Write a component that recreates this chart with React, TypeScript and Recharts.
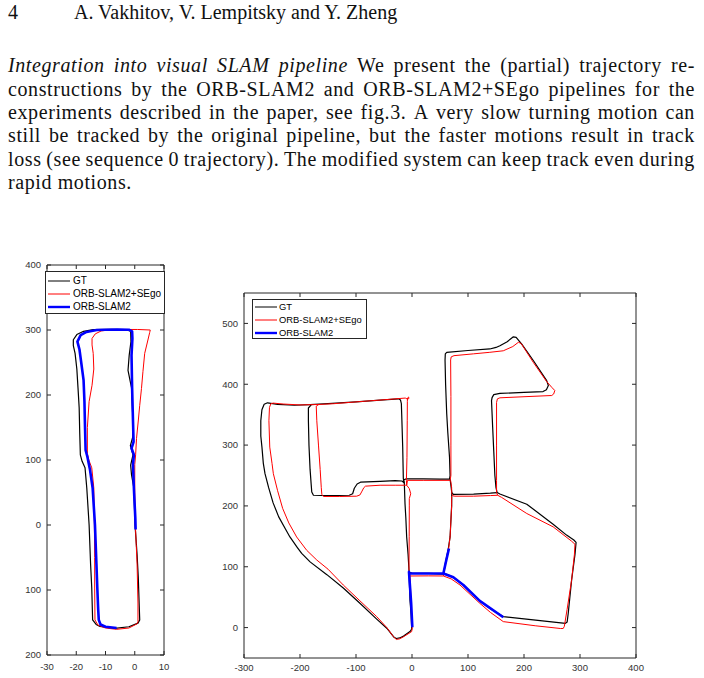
import React from 'react';
import { ScatterChart, Scatter, XAxis, YAxis, Legend } from 'recharts';

// ---------- page text ----------
const headerPage = '4';
const headerAuthors = 'A. Vakhitov, V. Lempitsky and Y. Zheng';
const italicLead = 'Integration into visual SLAM pipeline';
const paragraphLines = [
  'We present the (partial) trajectory re-',
  'constructions by the ORB-SLAM2 and ORB-SLAM2+SEgo pipelines for the',
  'experiments described in the paper, see fig.3. A very slow turning motion can',
  'still be tracked by the original pipeline, but the faster motions result in track',
  'loss (see sequence 0 trajectory). The modified system can keep track even during',
  'rapid motions.',
];

// ---------- legend / series names ----------
const seriesNames = ['GT', 'ORB-SLAM2+SEgo', 'ORB-SLAM2'];

// ---------- left plot (sequence 0) ----------
const seq0XTicks = [-30, -20, -10, 0, 10];
const seq0YTicks = [-200, -100, 0, 100, 200, 300, 400];

const seq0GT: number[][] = [
  [-1.4, 298], [-3, 300.5], [-8, 301], [-14.2, 300.5], [-17.5, 298], [-19.8, 293], [-21, 285],
  [-21, 276], [-20.4, 264], [-19.8, 240], [-19.4, 211], [-19, 180], [-18.8, 140], [-18.6, 108],
  [-18, 98], [-17, 88], [-16.4, 57], [-15.6, 0], [-15.1, -60], [-14.7, -97], [-14.4, -146],
  [-13.2, -153], [-11.9, -156], [-6.8, -159], [-2, -156.5], [1.1, -151], [1.7, -146],
  [1.5, -120], [1.2, -80], [0.8, -46], [0.1, 0], [-0.3, 57], [-1.1, 77], [-1.4, 92],
  [-0.6, 108], [-1.5, 122], [-0.7, 135], [-0.6, 159], [-1.1, 211], [-2.3, 238], [-1.9, 261],
  [-1.3, 282], [-1.4, 298],
];

const seq0SEgo: number[][] = [
  [5.3, 300], [1, 300.8], [-4, 300.8], [-8.5, 300.3], [-11.5, 298.5], [-13.5, 294], [-14.6, 287],
  [-14.6, 277], [-14.2, 264], [-14, 240], [-14.6, 215], [-15.6, 190], [-16.2, 150], [-16.2, 110],
  [-15.7, 100], [-14.7, 88], [-14, 57], [-13.8, 0], [-13.7, -50], [-13.7, -97], [-13.6, -146],
  [-12.6, -154], [-10, -158.5], [-6.2, -160.5], [-2, -158.5], [0.8, -152], [1.1, -148.7],
  [1.1, -120], [0.8, -60], [0.5, -30], [0.2, 0], [0, 50], [0, 93], [0.3, 108], [0.6, 133],
  [1.2, 160], [1.7, 184], [2.3, 210], [2.8, 236], [3.4, 264], [4.5, 284.6], [5.1, 296], [5.3, 300],
];

const seq0ORB: number[][] = [
  [0.3, -7], [0.2, 10], [-0.3, 57], [-0.6, 93], [-0.3, 108], [-1.1, 118], [-0.4, 128],
  [-0.6, 160], [-0.9, 211], [-1.1, 261], [-0.8, 287], [-0.9, 298], [-2, 300.5], [-6, 300.8],
  [-10, 300.5], [-13, 300], [-16.5, 297], [-18.5, 292], [-19.6, 282], [-18.9, 270], [-18.3, 250],
  [-17.5, 223], [-17.2, 190], [-17, 150], [-16.8, 115], [-16.2, 105], [-15.3, 85], [-14.4, 57],
  [-13.6, 0], [-13.1, -60], [-12.8, -97], [-12.5, -130], [-12.3, -146], [-11.7, -153],
  [-10, -156.5], [-6.2, -158.5],
];

// ---------- right plot (sequence 1) ----------
const seq1XTicks = [-300, -200, -100, 0, 100, 200, 300, 400];
const seq1YTicks = [0, 100, 200, 300, 400, 500];

const seq1GTLoop: number[][] = [
  [-182, 366.5], [-210, 365.5], [-240, 367], [-258, 369.5], [-264, 367], [-268, 358], [-270, 340],
  [-270, 315], [-268, 297], [-265.5, 270], [-262.5, 253], [-256, 230], [-248, 205], [-238, 182],
  [-226, 162], [-218, 149], [-205, 132], [-197, 122], [-182, 108], [-152, 87], [-122.7, 65],
  [-93, 40], [-63, 14], [-45, -1], [-32, -16], [-28, -18], [-22, -17], [-15, -14], [-3.6, -6.6],
  [-0.5, -2.6], [-1.5, 20], [-3.6, 45], [-5.4, 94.6], [-7, 120], [-9.5, 149], [-11, 180],
  [-12.5, 204], [-13.7, 237], [-15.5, 245], [-16.6, 297], [-18.4, 351], [-19, 368], [-20.5, 374],
  [-24, 376], [-57, 374], [-100, 371], [-150, 368], [-182, 366.5],
];

const seq1GTMain: number[][] = [
  [-180, 366], [-185, 361], [-185, 340], [-184, 300], [-182, 260], [-180, 235], [-179, 223],
  [-176, 217.5], [-150, 217], [-112, 217.5], [-106, 220], [-103, 229], [-98, 236], [-92, 239],
  [-57, 240.5], [-30, 241.5], [-18, 241], [-14, 238], [-15, 243], [-10, 244.5], [20, 244.5],
  [50, 244], [67, 244], [68, 250], [67, 280], [64, 320], [62, 351.5], [60, 400], [59, 440],
  [59.5, 450], [62, 452.5], [100, 455.5], [139, 458], [150, 460.5], [157, 463.4], [170, 470],
  [181, 478], [186, 477], [196, 466], [216.6, 439], [240.5, 406], [243.5, 398], [240, 391],
  [234, 388], [200, 386.5], [157, 385], [146, 383], [143, 378], [142, 373], [144, 330],
  [146, 290], [148, 250], [150, 230], [152, 222], [157, 219.5], [205, 202.8], [252, 170],
  [276, 152], [289, 144], [293, 140], [291, 120], [285, 78], [279, 23.6], [277, 9], [274, 7],
  [216.6, 12.6], [163, 18], [140, 31], [121, 44], [91.7, 70], [73.8, 82.6], [62, 87.5], [56, 88],
  [30, 89], [0, 89.5], [-5.4, 91],
];

const seq1GTLink: number[][] = [
  [68, 244], [70, 230], [71, 222], [74, 219], [110, 219.5], [140, 221], [152, 222],
];

const seq1GTDrop: number[][] = [
  [71, 222], [70.8, 200], [68, 149], [64.9, 130], [60, 108], [56, 88],
];

const seq1SEgoLoop: number[][] = [
  [-168, 366.7], [-200, 366], [-230, 367.5], [-248, 369], [-252, 368], [-254.5, 362],
  [-255.5, 340], [-254, 296.7], [-250, 270], [-247.6, 253], [-240, 225], [-231, 196],
  [-220, 172], [-206, 149], [-188, 127], [-170, 111], [-150, 96], [-122.7, 70], [-93, 44],
  [-63, 18], [-45, 0], [-33, -15], [-28, -19.5], [-22, -18.5], [-15, -15], [-0.6, -6.6],
  [0.5, 0], [-1.5, 40], [-3.6, 84.8], [-5.4, 94.6], [-5, 150], [-4.8, 200], [-4.8, 212],
  [-2.3, 220], [-4.8, 228.5], [-9.5, 234], [-10, 242], [-9, 280], [-8.5, 340], [-8.3, 372],
  [-8, 377.5], [-6, 379], [-5.5, 376.5], [-8, 375.5], [-12, 377.3], [-57, 374], [-100, 371],
  [-140, 368], [-168, 366.7],
];

const seq1SEgoMain: number[][] = [
  [-166, 367], [-171, 364], [-170, 340], [-167, 300], [-164, 260], [-162, 230], [-161, 219],
  [-158, 215.5], [-130, 215.5], [-98.8, 216], [-93, 218], [-90, 223], [-86, 230], [-83, 232.5],
  [-57, 234], [-30, 234], [-12, 234], [-9.5, 234], [-8, 242], [20, 242], [50, 242], [68, 242],
  [69.5, 250], [69.5, 300], [69.5, 380], [69, 440], [70, 445], [75, 447], [110, 450],
  [139, 452.5], [163, 455], [180, 462], [190, 469], [195, 467], [216.6, 436], [240, 405],
  [249.5, 395], [255, 389.7], [253, 384], [249.5, 381.5], [200, 379.5], [157, 377.7],
  [152.5, 376], [151, 370], [151, 300], [151, 242], [151, 222], [153, 217.5], [160, 214],
  [205, 187.5], [252, 165.6], [285, 142], [291, 137], [290, 120], [285, 78], [277, 30],
  [272, 2], [270, -1.5], [265, -1.5], [220, 3], [163, 9.8], [140, 25], [121, 40], [85.7, 70],
  [70, 80], [56, 84.8], [30, 85], [-3.6, 84.8],
];

const seq1SEgoLink: number[][] = [
  [69, 242], [70.8, 230], [71, 220], [73, 216.5], [76.8, 216], [110, 216], [140, 217], [153, 217.5],
];

const seq1SEgoDrop: number[][] = [
  [70.8, 216.5], [70.8, 200], [68, 149], [65, 127], [60, 105], [56, 84.8],
];

const seq1ORBUp: number[][] = [
  [0.6, 0.6], [-1.5, 40], [-5.4, 91.5], [-4.8, 89], [20, 89], [45, 89], [56, 89], [61, 110], [66, 130],
];

const seq1ORBDiag: number[][] = [
  [56, 89], [73.8, 82.6], [91.7, 70], [121, 44], [163, 17],
];

// ---------- styles ----------
const SERIF = "'Liberation Serif', 'Times New Roman', Times, serif";
const SANS = "'Liberation Sans', Arial, Helvetica, sans-serif";
const AXIS_COLOR = '#262626';
const seriesStyle: Record<string, { color: string; width: number; legendWidth: number }> = {
  GT: { color: '#000000', width: 1.2, legendWidth: 1 },
  'ORB-SLAM2+SEgo': { color: '#ff0000', width: 1, legendWidth: 1 },
  'ORB-SLAM2': { color: '#0000ff', width: 2.6, legendWidth: 2.4 },
};

const toPts = (a: number[][]) => a.map(([x, y]) => ({ x, y }));
const NoDot = () => null;

const tickStyle = { fill: '#333333', fontSize: 9.5, fontFamily: SANS };

function makeLegend(w: number, h: number, rowTop: number, rowGap: number, fs: number, textGap: number) {
  return () => (
    <div
      style={{
        width: w,
        height: h,
        boxSizing: 'border-box',
        border: `1px solid ${AXIS_COLOR}`,
        background: '#ffffff',
        position: 'relative',
        fontFamily: SANS,
        fontSize: fs,
        color: '#000',
      }}
    >
      {seriesNames.map((name, i) => (
        <div
          key={name}
          style={{
            position: 'absolute',
            left: 2,
            top: rowTop + i * rowGap - 7,
            height: 14,
            display: 'flex',
            alignItems: 'center',
            whiteSpace: 'nowrap',
          }}
        >
          <svg width={22} height={14} style={{ display: 'block' }}>
            <line x1={0} y1={7} x2={22} y2={7} stroke={seriesStyle[name].color} strokeWidth={seriesStyle[name].legendWidth} />
          </svg>
          <span style={{ marginLeft: textGap, lineHeight: '14px' }}>{name}</span>
        </div>
      ))}
    </div>
  );
}

function series(name: string, data: number[][], key: string) {
  const st = seriesStyle[name];
  return (
    <Scatter
      key={key}
      name={name}
      data={toPts(data)}
      xAxisId="b"
      yAxisId="l"
      fill={st.color}
      line={{ stroke: st.color, strokeWidth: st.width, strokeLinejoin: 'round' }}
      shape={NoDot}
      isAnimationActive={false}
      legendType="none"
    />
  );
}

// invisible carrier so the mirrored top/right axes (MATLAB box) get data
function boxCarrier(data: number[][]) {
  return (
    <Scatter
      data={toPts(data)}
      xAxisId="t"
      yAxisId="r"
      fill="none"
      shape={NoDot}
      isAnimationActive={false}
      legendType="none"
    />
  );
}

export default function App() {
  const lineTop0 = 55.3;
  const lineStep = 23.35;
  const textBase: React.CSSProperties = {
    position: 'absolute',
    fontFamily: SERIF,
    fontSize: 20,
    lineHeight: '20px',
    color: '#111',
    whiteSpace: 'nowrap',
  };
  const hideLabel = () => '';
  const bodySpacing = 0.6;

  return (
    <div style={{ position: 'absolute', left: 0, top: 0, width: 704, height: 678, background: '#fff', overflow: 'hidden' }}>
      <div style={{ ...textBase, left: 8, top: 1.8 }}>{headerPage}</div>
      <div style={{ ...textBase, left: 74, top: 1.8 }}>{headerAuthors}</div>
      {paragraphLines.map((ln, i) => {
        const last = i === paragraphLines.length - 1;
        const top = lineTop0 + i * lineStep;
        if (last) {
          return (
            <div key={i} style={{ ...textBase, left: 8, top, letterSpacing: bodySpacing }}>
              {ln}
            </div>
          );
        }
        const lead = i === 0 ? italicLead.split(' ') : [];
        const words = ln.split(' ');
        return (
          <div
            key={i}
            style={{
              ...textBase,
              left: 8,
              top,
              width: 687,
              display: 'flex',
              justifyContent: 'space-between',
              letterSpacing: bodySpacing,
            }}
          >
            {lead.map((w, k) => (
              <i key={'i' + k}>{w}</i>
            ))}
            {words.map((w, k) => (
              <span key={'w' + k}>{w}</span>
            ))}
          </div>
        );
      })}

      {/* left plot */}
      <div style={{ position: 'absolute', left: 0, top: 255 }}>
        <ScatterChart width={180} height={423} margin={{ top: 9, right: 15, bottom: 3, left: 7 }}>
          <XAxis
            xAxisId="b"
            dataKey="x"
            type="number"
            orientation="bottom"
            domain={[-30, 10]}
            ticks={seq0XTicks}
            interval={0}
            allowDataOverflow
            height={20}
            tickSize={-4}
            tickMargin={12}
            stroke={AXIS_COLOR}
            tick={tickStyle}
          />
          <XAxis
            xAxisId="t"
            dataKey="x"
            type="number"
            orientation="top"
            domain={[-30, 10]}
            ticks={seq0XTicks}
            interval={0}
            allowDataOverflow
            height={1}
            tickSize={-4}
            stroke={AXIS_COLOR}
            tickFormatter={hideLabel}
            tick={tickStyle}
          />
          <YAxis
            yAxisId="l"
            dataKey="y"
            type="number"
            orientation="left"
            domain={[-200, 400]}
            ticks={seq0YTicks}
            interval={0}
            allowDataOverflow
            width={40}
            tickSize={-4}
            tickMargin={10}
            stroke={AXIS_COLOR}
            tick={tickStyle}
            tickFormatter={(v: number) => String(Math.abs(v))}
          />
          <YAxis
            yAxisId="r"
            dataKey="y"
            type="number"
            orientation="right"
            domain={[-200, 400]}
            ticks={seq0YTicks}
            interval={0}
            allowDataOverflow
            width={1}
            tickSize={-4}
            stroke={AXIS_COLOR}
            tickFormatter={hideLabel}
            tick={tickStyle}
          />
          {boxCarrier(seq0GT)}
          {series('GT', seq0GT, 'g0')}
          {series('ORB-SLAM2+SEgo', seq0SEgo, 's0')}
          {series('ORB-SLAM2', seq0ORB, 'o0')}
          <Legend
            layout="vertical"
            align="center"
            verticalAlign="middle"
            content={makeLegend(120, 43, 9, 13, 10, 3)}
            wrapperStyle={{ left: 45, top: 16, right: 'auto', bottom: 'auto', width: 120, height: 43 }}
          />
        </ScatterChart>
      </div>

      {/* right plot */}
      <div style={{ position: 'absolute', left: 200, top: 280 }}>
        <ScatterChart width={450} height={398} margin={{ top: 12, right: 13, bottom: 2, left: 4 }}>
          <XAxis
            xAxisId="b"
            dataKey="x"
            type="number"
            orientation="bottom"
            domain={[-300, 400]}
            ticks={seq1XTicks}
            interval={0}
            allowDataOverflow
            height={18}
            tickSize={-4}
            tickMargin={10}
            stroke={AXIS_COLOR}
            tick={tickStyle}
          />
          <XAxis
            xAxisId="t"
            dataKey="x"
            type="number"
            orientation="top"
            domain={[-300, 400]}
            ticks={seq1XTicks}
            interval={0}
            allowDataOverflow
            height={1}
            tickSize={-4}
            stroke={AXIS_COLOR}
            tickFormatter={hideLabel}
            tick={tickStyle}
          />
          <YAxis
            yAxisId="l"
            dataKey="y"
            type="number"
            orientation="left"
            domain={[-50, 550]}
            ticks={seq1YTicks}
            interval={0}
            allowDataOverflow
            width={40}
            tickSize={-4}
            tickMargin={10}
            stroke={AXIS_COLOR}
            tick={tickStyle}
          />
          <YAxis
            yAxisId="r"
            dataKey="y"
            type="number"
            orientation="right"
            domain={[-50, 550]}
            ticks={seq1YTicks}
            interval={0}
            allowDataOverflow
            width={1}
            tickSize={-4}
            stroke={AXIS_COLOR}
            tickFormatter={hideLabel}
            tick={tickStyle}
          />
          {boxCarrier(seq1GTMain)}
          {series('GT', seq1GTLoop, 'g1')}
          {series('GT', seq1GTMain, 'g2')}
          {series('GT', seq1GTLink, 'g3')}
          {series('GT', seq1GTDrop, 'g4')}
          {series('ORB-SLAM2+SEgo', seq1SEgoLoop, 's1')}
          {series('ORB-SLAM2+SEgo', seq1SEgoMain, 's2')}
          {series('ORB-SLAM2+SEgo', seq1SEgoLink, 's3')}
          {series('ORB-SLAM2+SEgo', seq1SEgoDrop, 's4')}
          {series('ORB-SLAM2', seq1ORBUp, 'o1')}
          {series('ORB-SLAM2', seq1ORBDiag, 'o2')}
          <Legend
            layout="vertical"
            align="center"
            verticalAlign="middle"
            content={makeLegend(115, 40, 7, 13, 9.4, 2)}
            wrapperStyle={{ left: 52, top: 19, right: 'auto', bottom: 'auto', width: 115, height: 40 }}
          />
        </ScatterChart>
      </div>
    </div>
  );
}
